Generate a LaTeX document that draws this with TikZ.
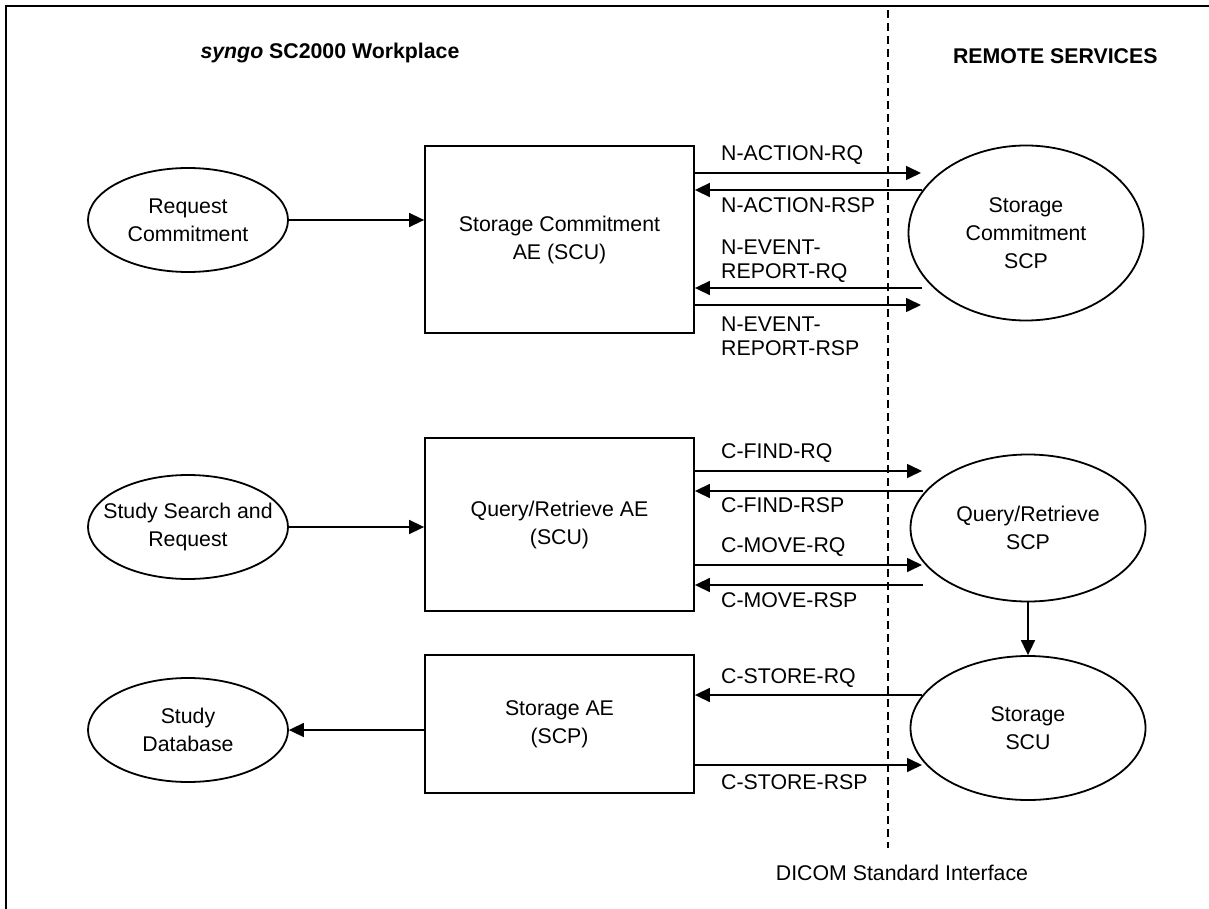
\documentclass[tikz,border=0pt]{standalone}
\usepackage{fontspec}
\setmainfont{Liberation Sans}
\usetikzlibrary{shapes.geometric}
\usetikzlibrary{arrows.meta}

\begin{document}
\begin{tikzpicture}[x=1pt,y=-1pt,
  txt/.style={font=\fontsize{21.3}{28}\selectfont, align=center},
  proc/.style={txt, draw, line width=1.8pt, ellipse, inner sep=0pt},
  ae/.style={txt, draw, line width=1.8pt, rectangle, inner sep=0pt},
  lbl/.style={font=\fontsize{21.3}{24}\selectfont, align=left, anchor=west, inner sep=0pt},
  arr/.style={line width=1.6pt, -{Triangle[length=15pt,width=14pt]}}]
  \useasboundingbox (0,0) rectangle (1209,909);
  \draw[line width=2pt] (6,930) -- (6,6) -- (1230,6);

  %%%%%%% HEADINGS
  \node[txt, anchor=west] (wsp) at (197,53) {\textbf{\textit{syngo} SC2000 Workplace}};
  \node[txt, anchor=east] (rms) at (1161,56) {\textbf{REMOTE SERVICES}};
  \coordinate (dtop) at (888,10);
  \coordinate (dbot) at (888,848);
  \draw[line width=1.4pt, dash pattern=on 8pt off 5pt] (dtop) -- (dbot);
  \node[txt] (dsi) at (902,873) {DICOM Standard Interface};

  %%%%%%% STORAGE COMMITMENT
  \node[proc, minimum width=200pt, minimum height=104pt] (reqc) at (188,220) {Request\\Commitment};
  \node[ae, minimum width=269pt, minimum height=187pt] (sca) at (559.5,239.5) {Storage Commitment\\AE (SCU)};
  \node[proc, minimum width=235pt, minimum height=175pt] (scp) at (1026,233) {Storage\\Commitment\\SCP};
  \draw[arr] (reqc.east) -- (reqc.east -| sca.west);
  \coordinate (narq) at (921,173);
  \coordinate (narsp) at (922,190);
  \coordinate (nerq) at (922,288);
  \coordinate (nersp) at (921,305);
  \draw[arr] (sca.east |- narq) -- (narq);
  \draw[arr] (narsp) -- (sca.east |- narsp);
  \draw[arr] (nerq) -- (sca.east |- nerq);
  \draw[arr] (sca.east |- nersp) -- (nersp);
  \node[lbl] (lnarq) at (721,155) {N-ACTION-RQ};
  \node[lbl] (lnarsp) at (721,205) {N-ACTION-RSP};
  \node[lbl] (lnerq) at (721,261) {N-EVENT-\\REPORT-RQ};
  \node[lbl] (lnersp) at (721,336) {N-EVENT-\\REPORT-RSP};

  %%%%%%% QUERY / RETRIEVE
  \node[proc, minimum width=200pt, minimum height=104pt, inner xsep=-26pt] (ssr) at (188,527) {Study Search and\\Request};
  \node[ae, minimum width=269pt, minimum height=173pt] (qra) at (559.5,524.5) {Query/Retrieve AE\\(SCU)};
  \node[proc, minimum width=235pt, minimum height=147pt] (qrscp) at (1028,528) {Query/Retrieve\\SCP};
  \draw[arr] (ssr.east) -- (ssr.east -| qra.west);
  \coordinate (cfrq) at (922,471);
  \coordinate (cfrsp) at (923,491);
  \coordinate (cmrq) at (922,565);
  \coordinate (cmrsp) at (923,585);
  \draw[arr] (qra.east |- cfrq) -- (cfrq);
  \draw[arr] (cfrsp) -- (qra.east |- cfrsp);
  \draw[arr] (qra.east |- cmrq) -- (cmrq);
  \draw[arr] (cmrsp) -- (qra.east |- cmrsp);
  \node[lbl] (lcfrq) at (721,453) {C-FIND-RQ};
  \node[lbl] (lcfrsp) at (721,505) {C-FIND-RSP};
  \node[lbl] (lcmrq) at (721,547) {C-MOVE-RQ};
  \node[lbl] (lcmrsp) at (721,600) {C-MOVE-RSP};

  %%%%%%% STORAGE
  \node[proc, minimum width=200pt, minimum height=104pt] (sdb) at (188,730) {Study\\Database};
  \node[ae, minimum width=269pt, minimum height=138pt] (sta) at (559.5,724) {Storage AE\\(SCP)};
  \node[proc, minimum width=235pt, minimum height=144pt] (stscu) at (1028,728) {Storage\\SCU};
  \draw[arr] (sta.west |- sdb.east) -- (sdb.east);
  \draw[arr] (qrscp) -- (stscu);
  \coordinate (csrq) at (922,695);
  \coordinate (csrsp) at (922,765);
  \draw[arr] (csrq) -- (sta.east |- csrq);
  \draw[arr] (sta.east |- csrsp) -- (csrsp);
  \node[lbl] (lcsrq) at (721,678) {C-STORE-RQ};
  \node[lbl] (lcsrsp) at (721,782) {C-STORE-RSP};
\end{tikzpicture}
\end{document}
